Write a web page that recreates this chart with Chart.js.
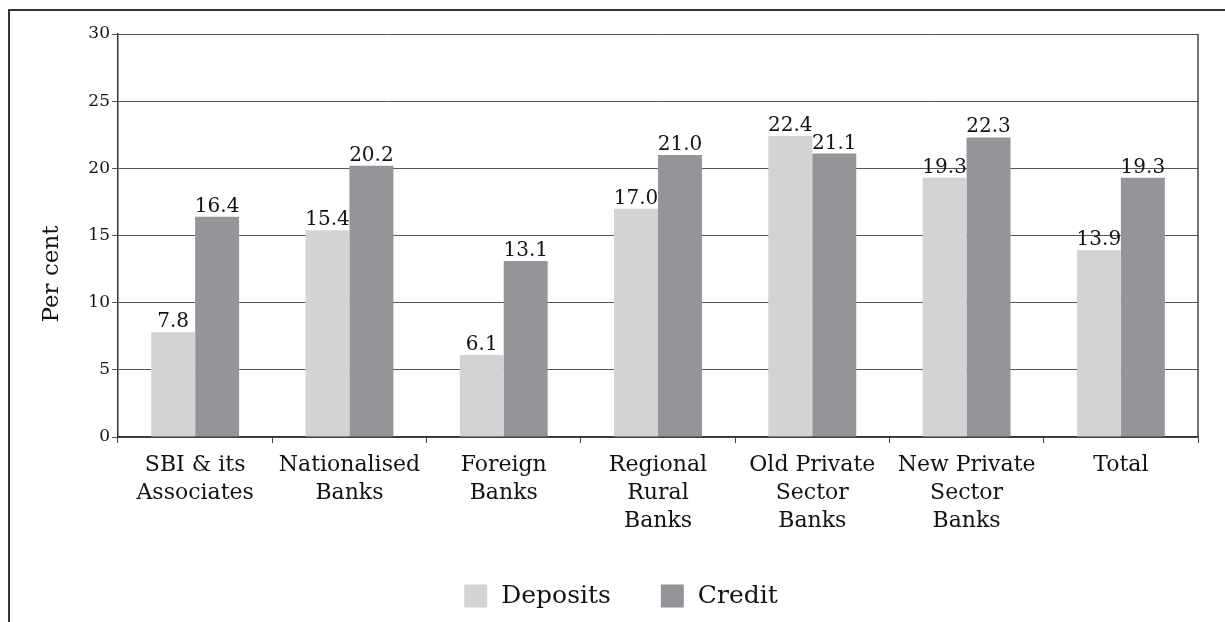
<!DOCTYPE html>
<html>
<head>
<meta charset="utf-8">
<script src="https://cdn.jsdelivr.net/npm/chart.js@4"></script>
<style>
    html, body { margin: 0; padding: 0; background: #fff; }
    #wrap { position: relative; width: 1225px; height: 622px; overflow: hidden; }
    #frame { position: absolute; left: 8px; top: 9px; width: 1400px; height: 800px;
        border-left: 2px solid #333; border-top: 2px solid #333; }
    #charts { position: absolute; left: 0; top: 0; }
</style>
</head>
<body>
<div id="wrap">
    <div id="frame"></div>
    <canvas id="charts" width="1225" height="622"></canvas>
</div>
<script>
const categories = [
    ['SBI & its', 'Associates'],
    ['Nationalised', 'Banks'],
    ['Foreign', 'Banks'],
    ['Regional', 'Rural', 'Banks'],
    ['Old Private', 'Sector', 'Banks'],
    ['New Private', 'Sector', 'Banks'],
    'Total',
];
const deposits = [7.8, 15.4, 6.1, 17.0, 22.4, 19.3, 13.9];
const credit = [16.4, 20.2, 13.1, 21.0, 21.1, 22.3, 19.3];
const yTicks = [0, 5, 10, 15, 20, 25, 30];

const FONT = 'DejaVu Serif';
const INK = '#151213';

// value labels above each bar, plus right edge of the plot
const barLabels = {
    id: 'barLabels',
    afterDatasetsDraw(chart) {
        const ctx = chart.ctx;
        ctx.save();
        ctx.font = '20px "' + FONT + '"';
        ctx.fillStyle = INK;
        ctx.textAlign = 'center';
        ctx.textBaseline = 'alphabetic';
        chart.data.datasets.forEach((ds, i) => {
            chart.getDatasetMeta(i).data.forEach((bar, j) => {
                ctx.fillText(ds.data[j].toFixed(1), bar.x, bar.y - 5);
            });
        });
        const a = chart.chartArea;
        ctx.strokeStyle = '#444';
        ctx.lineWidth = 1.5;
        ctx.beginPath();
        ctx.moveTo(a.right, a.top);
        ctx.lineTo(a.right, a.bottom);
        ctx.stroke();
        ctx.restore();
    },
};

// y title and legend
const extras = {
    id: 'extras',
    afterDraw(chart) {
        const ctx = chart.ctx;
        ctx.save();
        ctx.fillStyle = INK;
        ctx.font = '23px "' + FONT + '"';
        ctx.translate(52, 274);
        ctx.rotate(-Math.PI / 2);
        ctx.textAlign = 'center';
        ctx.textBaseline = 'middle';
        ctx.fillText('Per cent', 0, 0);
        ctx.restore();

        ctx.save();
        ctx.font = '25px "' + FONT + '"';
        ctx.textBaseline = 'middle';
        const box = 23, gap = 14, between = 50;
        const items = chart.data.datasets.map(ds => ({
            label: ds.label, color: ds.backgroundColor,
            w: box + gap + ctx.measureText(ds.label).width,
        }));
        const total = items.reduce((s, it) => s + it.w, 0) + between * (items.length - 1);
        let x = 621 - total / 2;
        const cy = 596;
        items.forEach(it => {
            ctx.fillStyle = it.color;
            ctx.fillRect(x, cy - box / 2, box, box);
            ctx.fillStyle = INK;
            ctx.fillText(it.label, x + box + gap, cy);
            x += it.w + between;
        });
        ctx.restore();
    },
};

new Chart(document.getElementById('charts'), {
    type: 'bar',
    data: {
        labels: categories,
        datasets: [
            { label: 'Deposits', data: deposits, backgroundColor: '#d1d3d4' },
            { label: 'Credit', data: credit, backgroundColor: '#939598' },
        ],
    },
    options: {
        responsive: false,
        animation: false,
        layout: { padding: { left: 10, right: 27, top: 34, bottom: 0 } },
        datasets: {
            bar: { categoryPercentage: 0.57, barPercentage: 1.0 },
        },
        plugins: {
            legend: { display: false },
            tooltip: { enabled: false },
        },
        scales: {
            x: {
                afterFit: scale => { scale.height = 185; },
                grid: {
                    offset: true,
                    drawOnChartArea: false,
                    drawTicks: true,
                    tickLength: 6,
                    color: '#444',
                },
                border: { display: true, color: '#333', width: 1.5 },
                ticks: {
                    color: INK,
                    font: { family: FONT, size: 22, lineHeight: 1.27 },
                    padding: 8,
                    maxRotation: 0,
                    autoSkip: false,
                },
            },
            y: {
                min: 0,
                max: 30,
                afterFit: scale => { scale.width = 108; },
                afterBuildTicks: scale => {
                    scale.ticks = yTicks.map(v => ({ value: v }));
                },
                grid: {
                    color: '#555',
                    lineWidth: 1,
                    tickLength: 6,
                },
                border: { display: true, color: '#333', width: 1.5 },
                ticks: {
                    color: INK,
                    font: { family: FONT, size: 17 },
                    padding: 2,
                },
            },
        },
    },
    plugins: [barLabels, extras],
});
</script>
</body>
</html>
